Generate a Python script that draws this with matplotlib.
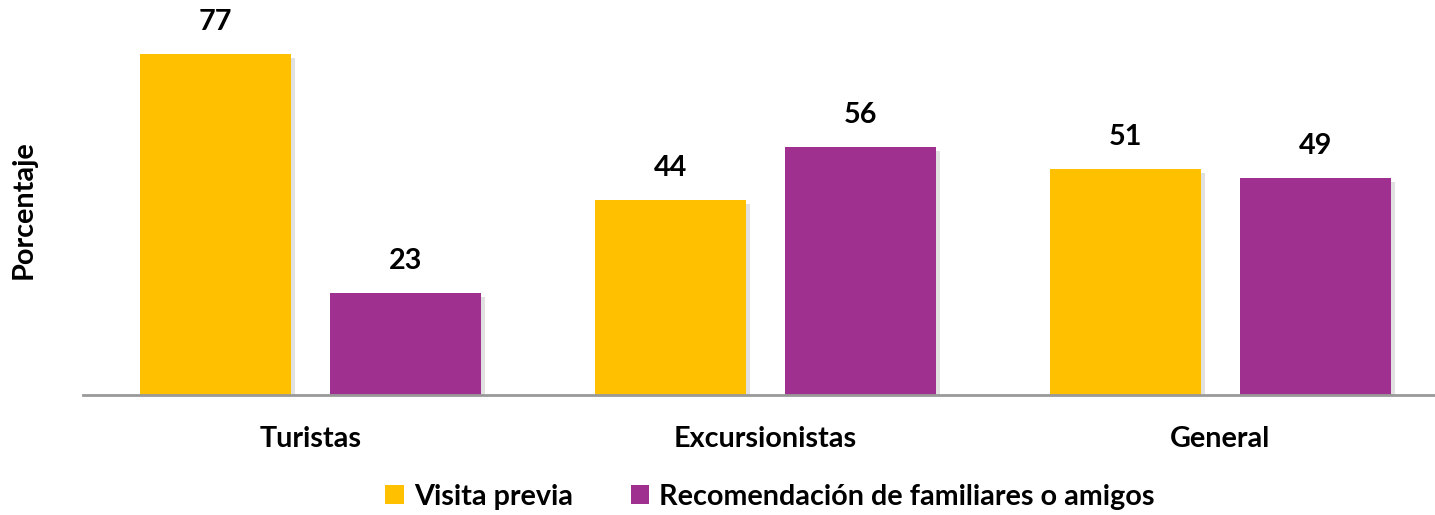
import matplotlib
matplotlib.use("Agg")
import matplotlib.pyplot as plt
import matplotlib.patheffects as pe
import numpy as np

categories = ["Turistas", "Excursionistas", "General"]
series_names = ["Visita previa", "Recomendación de familiares o amigos"]
visita = [77, 44, 51]
recomendacion = [23, 56, 49]
colors = ["#FFC000", "#A03090"]

plt.rcParams['font.family'] = ['Lato', 'DejaVu Sans']
FS = 20.7

W, H = 1435, 515
fig = plt.figure(figsize=(W/100, H/100), dpi=100)
left = 83/W
bottom = 1 - 395/H
ax = fig.add_axes([left, bottom, 1365/W, 395/H])

x = np.arange(len(categories))
bw = 0.332
off = 0.209
shadow = [pe.SimplePatchShadow(offset=(3, -3), shadow_rgbFace='#888888', alpha=0.25), pe.Normal()]
b1 = ax.bar(x - off, visita, bw, color=colors[0], label=series_names[0], zorder=2)
b2 = ax.bar(x + off, recomendacion, bw, color=colors[1], label=series_names[1], zorder=2)
for bars in (b1, b2):
    for p in bars:
        p.set_path_effects(shadow)
    ax.bar_label(bars, padding=14, fontsize=FS, fontweight='bold', color='black')

ax.set_xlim(-0.5, 2.5)
ax.set_ylim(0, 89.2)
ax.set_xticks(x)
ax.set_xticklabels(categories, fontsize=FS, fontweight='bold')
ax.tick_params(axis='x', length=0, pad=22)
ax.set_yticks([])
for s in ['top', 'right', 'left']:
    ax.spines[s].set_visible(False)
ax.spines['bottom'].set_color('#999999')
ax.spines['bottom'].set_linewidth(2)

fig.text(24/W, 1 - 210/H, "Porcentaje", rotation=90, ha='center', va='center',
         fontsize=FS, fontweight='bold')

leg = fig.legend(handles=[b1, b2], labels=series_names, loc='center',
                 bbox_to_anchor=(770/W, 1 - 497/H), ncol=2, frameon=False,
                 prop={'size': FS, 'weight': 'bold'}, handlelength=0.65, handleheight=0.65,
                 handletextpad=0.35, columnspacing=2.0)
for h in leg.legend_handles:
    h.set_path_effects([])

fig.savefig("out.png", dpi=100)
